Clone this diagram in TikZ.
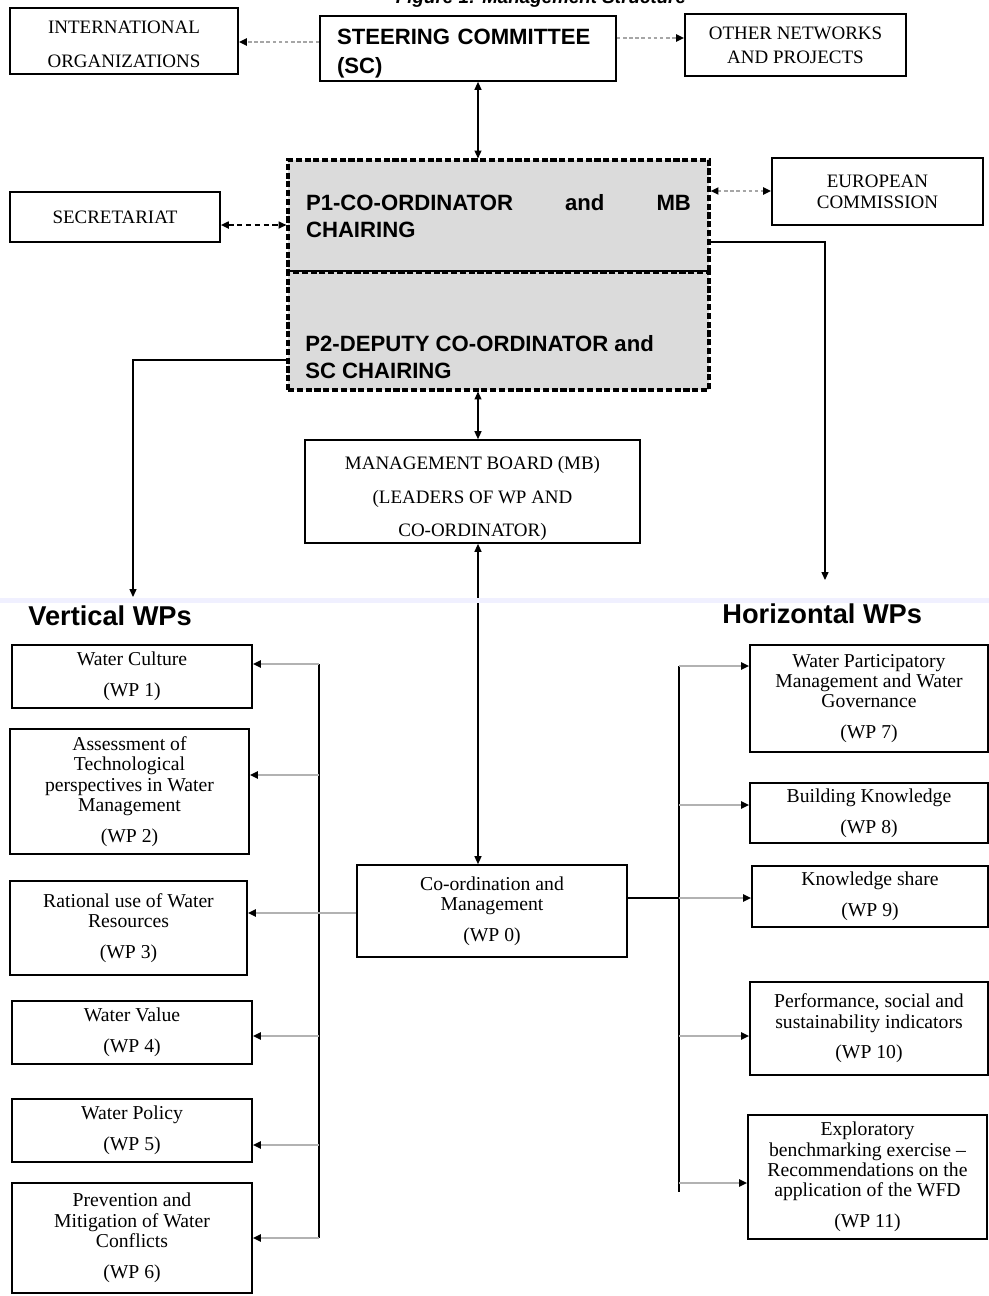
\documentclass[tikz,border=0pt]{standalone}
\usepackage{fontspec}
\setmainfont{Liberation Serif}
\setsansfont{Liberation Sans}
\usetikzlibrary{arrows.meta}

\tikzset{
  plainbox/.style={draw, line width=1pt, align=center, inner sep=0pt,
    font=\fontsize{10.8}{12}\selectfont},
  wp/.style={plainbox, font=\fontsize{11.2}{11.6}\selectfont},
  chair/.style={draw, line width=1.8pt, dash pattern=on 3.5pt off 1.5pt,
    fill=gray!28, inner sep=0pt},
  headfont/.style={font=\sffamily\bfseries\fontsize{12.6}{15.3}\selectfont},
  endtip/.style={-{Triangle[length=4.5pt,width=4pt,color=black]}},
  twotips/.style={{Triangle[length=4.5pt,width=4pt,color=black]}-{Triangle[length=4.5pt,width=4pt,color=black]}},
  link/.style={line width=0.6pt},
  dots/.style={gray!70, line width=1.4pt, dash pattern=on 2pt off 1.5pt},
  bus/.style={line width=0.9pt},
  branch/.style={gray!60, line width=1pt, endtip},
}

\begin{document}
\begin{tikzpicture}[x=0.02cm, y=-0.02cm]
\useasboundingbox (0,0) rectangle (989,1296);

% caption, cut by the page edge
\node[font=\sffamily\bfseries\itshape\fontsize{10.7}{12}\selectfont, anchor=base] (title) at (541,3.5) {Figure 1: Management Structure};

% top row
\node[plainbox, minimum width=4.56cm, minimum height=1.32cm] (intl) at (124,41) {\rule{0pt}{11pt}INTERNATIONAL\\[7pt]ORGANIZATIONS};
\node[plainbox, headfont, font=\sffamily\bfseries\fontsize{12.6}{16.5}\selectfont, align=left, text width=5.24cm, minimum width=5.92cm, minimum height=1.3cm] (sc) at (468,48.5) {\rule{0pt}{15pt}STEERING COMMITTEE\\(SC)};
\node[plainbox, minimum width=4.42cm, minimum height=1.24cm] (other) at (795.5,45) {OTHER NETWORKS\\[1.5pt]AND PROJECTS};

% co-ordinators
\node[plainbox, minimum width=4.2cm, minimum height=1cm] (secr) at (115,217) {SECRETARIAT};
\node[plainbox, minimum width=4.22cm, minimum height=1.34cm] (ec) at (877.5,191.5) {EUROPEAN\\COMMISSION};
\node[chair, headfont, align=left, text width=7.7cm, minimum width=8.42cm, minimum height=2.24cm] (p1) at (498.5,216) {P1-CO-ORDINATOR\hfill and\hfill MB\\CHAIRING};
\node[chair, minimum width=8.42cm, minimum height=2.36cm] (p2) at (498.5,331) {};
\node[headfont, align=left, anchor=north west, inner sep=0pt] (p2text) at (305,335) {P2-DEPUTY CO-ORDINATOR and\\SC CHAIRING};

\node[plainbox, minimum width=6.7cm, minimum height=2.06cm] (mb) at (472.5,491.5) {\rule{0pt}{15.5pt}MANAGEMENT BOARD (MB)\\[7pt](LEADERS OF WP AND\\[7pt]CO-ORDINATOR)};
\node[wp, minimum width=5.4cm, minimum height=1.84cm] (wp0) at (492,911) {Co-ordination and\\Management\\[6pt](WP 0)};

% vertical WPs
\node[wp, minimum width=4.8cm, minimum height=1.26cm] (wp1) at (132,676.5) {Water Culture\\[6pt](WP 1)};
\node[wp, minimum width=4.78cm, minimum height=2.5cm] (wp2) at (129.5,791.5) {Assessment of\\Technological\\perspectives in Water\\Management\\[6pt](WP 2)};
\node[wp, minimum width=4.74cm, minimum height=1.88cm] (wp3) at (128.5,928) {Rational use of Water\\Resources\\[6pt](WP 3)};
\node[wp, minimum width=4.8cm, minimum height=1.26cm] (wp4) at (132,1032.5) {Water Value\\[6pt](WP 4)};
\node[wp, minimum width=4.8cm, minimum height=1.26cm] (wp5) at (132,1130.5) {Water Policy\\[6pt](WP 5)};
\node[wp, minimum width=4.8cm, minimum height=2.2cm] (wp6) at (132,1238) {Prevention and\\Mitigation of Water\\Conflicts\\[6pt](WP 6)};

% horizontal WPs
\node[wp, minimum width=4.76cm, minimum height=2.14cm] (wp7) at (869,698.5) {Water Participatory\\Management and Water\\Governance\\[6pt](WP 7)};
\node[wp, minimum width=4.76cm, minimum height=1.2cm] (wp8) at (869,813) {Building Knowledge\\[6pt](WP 8)};
\node[wp, minimum width=4.72cm, minimum height=1.22cm] (wp9) at (870,896.5) {Knowledge share\\[6pt](WP 9)};
\node[wp, minimum width=4.76cm, minimum height=1.86cm] (wp10) at (869,1028.5) {Performance, social and\\sustainability indicators\\[6pt](WP 10)};
\node[wp, minimum width=4.78cm, minimum height=2.48cm] (wp11) at (867.5,1177) {Exploratory\\benchmarking exercise --\\Recommendations on the\\application of the WFD\\[6pt](WP 11)};

% arrows of the top part
\coordinate (spine) at (478,0);
\draw[dots, endtip] (sc.west |- 0,42) -- (intl.east |- 0,42);
\draw[dots, endtip] (sc.east |- 0,38) -- (other.west |- 0,38);
\draw[link, twotips, dash pattern=on 3pt off 2pt, line width=0.9pt] (secr.east |- 0,225) -- (p1.west |- 0,225);
\draw[dots, twotips] (p1.east |- 0,191) -- (ec.west |- 0,191);
\draw[link, twotips] (sc.south -| spine) -- (p1.north -| spine);
\draw[link, twotips] (p2.south -| spine) -- (mb.north -| spine);
\draw[link, twotips] (mb.south -| spine) -- (wp0.north -| spine);

\coordinate (vdrop) at (133,597);
\coordinate (hdrop) at (825,580);
\draw[link, endtip] (p2.west |- 0,360) -| (vdrop);
\draw[link, endtip] (p1.east |- 0,242) -| (hdrop);

% seam of the scan
\fill[blue!6] (0,598) rectangle (989,603);
\node[font=\sffamily\bfseries\fontsize{15.5}{18}\selectfont, anchor=west, inner sep=0pt] (vert) at (28,616) {Vertical WPs};
\node[font=\sffamily\bfseries\fontsize{15.5}{18}\selectfont, anchor=west, inner sep=0pt] (horiz) at (722,614) {Horizontal WPs};

% left bus
\coordinate (lbtop) at (319,664);
\coordinate (lbbot) at (319,1238);
\draw[bus] (lbtop) -- (lbbot);
\foreach \n/\y in {1/664, 2/775, 4/1036, 5/1145, 6/1238}
  \draw[branch] (lbtop |- 0,\y) -- (wp\n.east |- 0,\y);
\draw[branch] (wp0.west |- 0,913) -- (wp3.east |- 0,913);

% right bus
\coordinate (rbtop) at (679,666);
\coordinate (rbbot) at (679,1192);
\draw[bus] (rbtop) -- (rbbot);
\foreach \n/\y in {7/666, 8/805, 10/1036, 11/1183}
  \draw[branch] (rbtop |- 0,\y) -- (wp\n.west |- 0,\y);
\draw[bus] (wp0.east |- 0,898) -- (rbtop |- 0,898);
\draw[branch] (rbtop |- 0,898) -- (wp9.west |- 0,898);
\end{tikzpicture}
\end{document}
